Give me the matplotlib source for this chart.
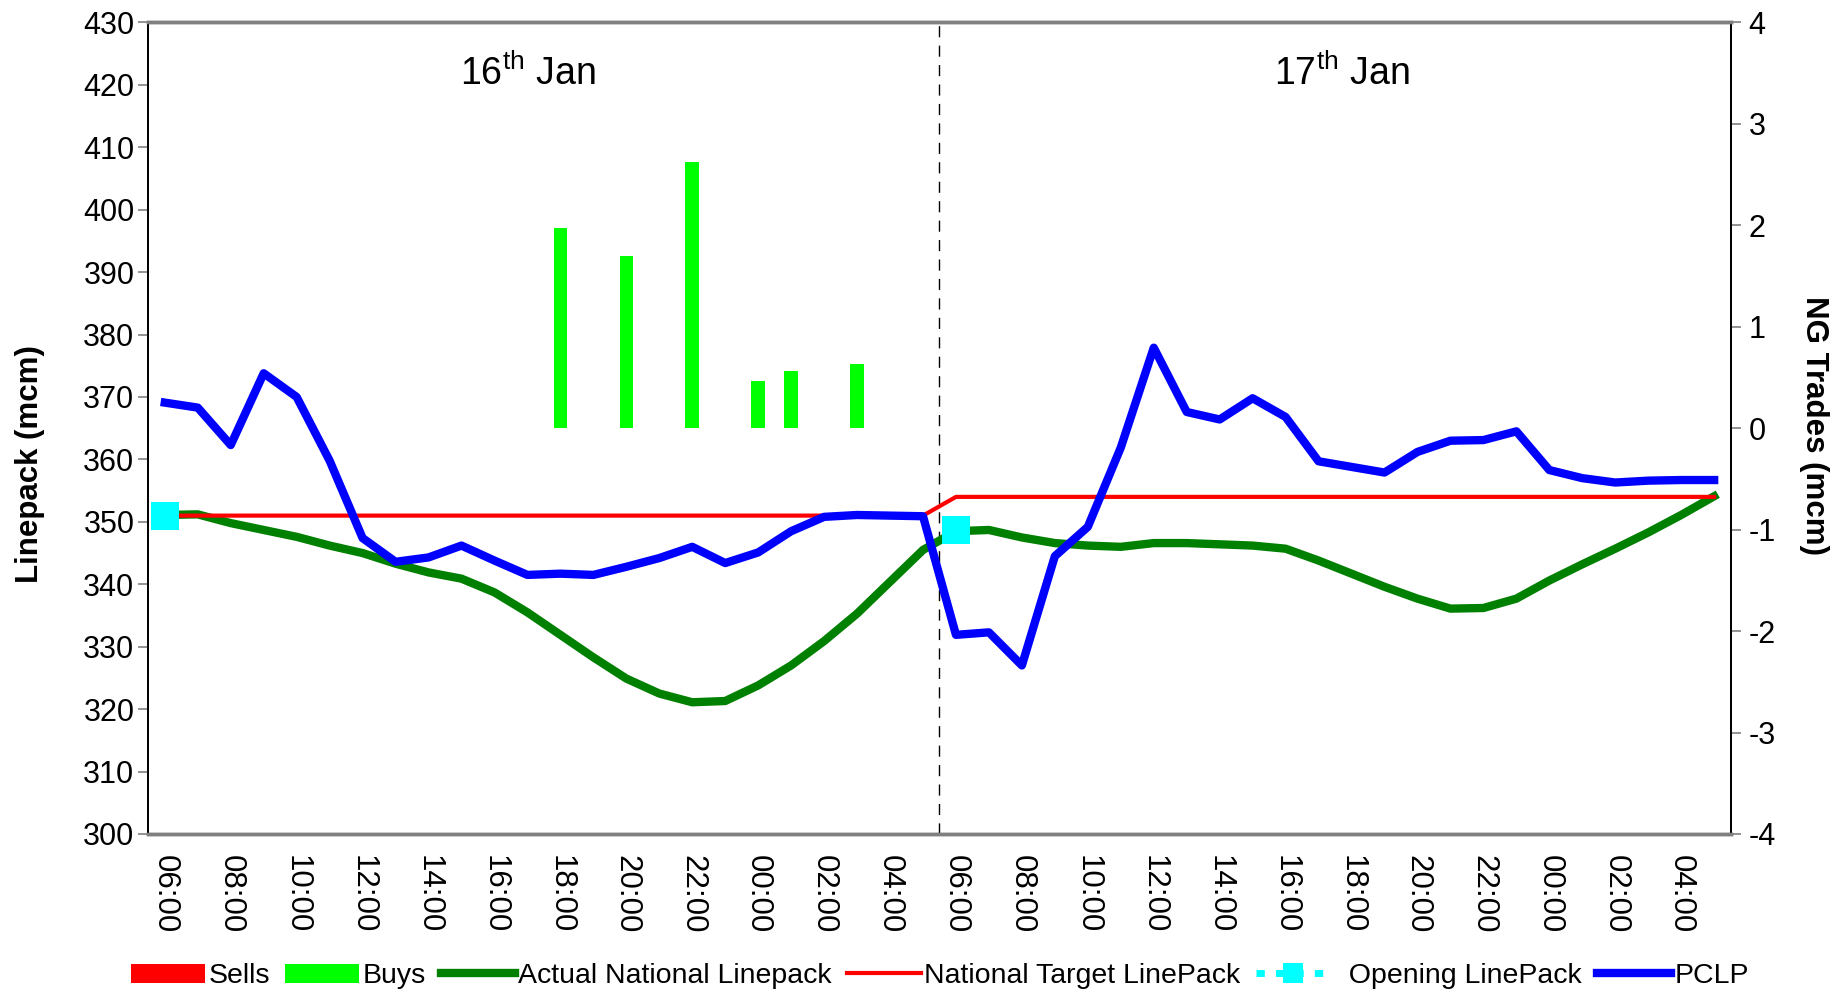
import numpy as np
import matplotlib
matplotlib.use("Agg")
import matplotlib.pyplot as plt
from matplotlib import font_manager
from matplotlib.lines import Line2D
from matplotlib.patches import Patch

# ---------------- data ----------------
hours = ["06:00", "07:00", "08:00", "09:00", "10:00", "11:00", "12:00", "13:00",
         "14:00", "15:00", "16:00", "17:00", "18:00", "19:00", "20:00", "21:00",
         "22:00", "23:00", "00:00", "01:00", "02:00", "03:00", "04:00", "05:00"]
categories = hours + hours  # 16th Jan 06:00 -> 18th Jan 05:00

actual_linepack = [351.1, 351.2, 349.8, 348.7, 347.6, 346.2, 345.0, 343.3,
                   341.9, 340.9, 338.7, 335.5, 331.9, 328.3, 324.9, 322.5,
                   321.1, 321.3, 323.8, 327.0, 330.9, 335.3, 340.4, 345.5,
                   348.5, 348.7, 347.5, 346.6, 346.2, 346.0, 346.6, 346.6,
                   346.4, 346.2, 345.7, 343.8, 341.7, 339.6, 337.7, 336.1,
                   336.2, 337.7, 340.6, 343.2, 345.7, 348.3, 351.1, 354.1]

target_linepack = [351.0] * 24 + [354.0] * 24

pclp = [369.1, 368.3, 362.3, 373.8, 370.0, 359.8, 347.4, 343.6,
        344.3, 346.2, 343.8, 341.5, 341.7, 341.5, 342.8, 344.2,
        346.0, 343.4, 345.1, 348.5, 350.8, 351.1, 351.0, 350.9,
        331.9, 332.3, 327.0, 344.5, 349.2, 361.9, 377.9, 367.6,
        366.4, 369.8, 366.8, 359.7, 358.8, 357.9, 361.2, 363.0,
        363.1, 364.5, 358.3, 357.0, 356.3, 356.6, 356.7, 356.7]

opening_linepack = [351.0] + [np.nan] * 23 + [348.7] + [np.nan] * 23

buys = [0, 0, 0, 0, 0, 0, 0, 0, 0, 0, 0, 0, 1.97, 0, 1.70, 0,
        2.62, 0, 0.47, 0.56, 0, 0.63, 0, 0] + [0] * 24
sells = [0] * 48

day_labels = ["16$^{\\mathrm{th}}$ Jan", "17$^{\\mathrm{th}}$ Jan"]

# ---------------- fonts ----------------
avail = {f.name for f in font_manager.fontManager.ttflist}
narrow = "Liberation Sans Narrow" if "Liberation Sans Narrow" in avail else "Liberation Sans"
regular = "Liberation Sans"
plt.rcParams["font.family"] = [narrow, "DejaVu Sans"]
plt.rcParams["mathtext.fontset"] = "custom"
plt.rcParams["mathtext.rm"] = narrow
plt.rcParams["mathtext.it"] = narrow
plt.rcParams["mathtext.bf"] = narrow
plt.rcParams["axes.unicode_minus"] = False

# ---------------- figure ----------------
fig = plt.figure(figsize=(18.47, 9.97), dpi=100)
ax = fig.add_axes([0.0803, 0.1635, 0.937 - 0.0803, 0.9775 - 0.1635])
ax2 = ax.twinx()

x = np.arange(len(categories))
ax.set_xlim(-0.5, len(categories) - 0.5)
ax.set_ylim(300, 430)
ax2.set_ylim(-4, 4)

# bars on secondary axis
buys_arr = np.array(buys, dtype=float)
sells_arr = np.array(sells, dtype=float)
mask = buys_arr != 0
ax2.bar(x[mask], buys_arr[mask], width=0.41, color="#00FF00", zorder=2)
smask = sells_arr != 0
if smask.any():
    ax2.bar(x[smask], sells_arr[smask], width=0.41, color="#FF0000", zorder=2)

ax.set_zorder(ax2.get_zorder() + 1)
ax.patch.set_visible(False)

ax.plot(x, actual_linepack, color="#008000", lw=6.0, solid_joinstyle="round", zorder=3)
ax.plot(x, target_linepack, color="#FF0000", lw=3.0, zorder=4)
ax.plot(x, pclp, color="#0000FF", lw=6.0, solid_joinstyle="round", zorder=5)
ax.plot(x, opening_linepack, color="#00FFFF", ls="--", marker="s", markersize=19.5,
        markeredgewidth=0, zorder=6)

# day divider
ax.axvline(23.5, color="black", lw=1.0, ls=(0, (8, 6)), zorder=1)

# day labels
ax.text(11.0, 421.7, day_labels[0], fontsize=27, ha="center", va="center")
ax.text(35.7, 421.7, day_labels[1], fontsize=27, ha="center", va="center")

# ticks
ax.set_xticks(x[::2])
ax.set_xticklabels(categories[::2], rotation=270, fontsize=22.5, family=regular)
ax.tick_params(axis="x", length=0, pad=15)
ax.set_yticks(np.arange(300, 431, 10))
ax.tick_params(axis="y", labelsize=22, length=7, width=1.2, color="#808080", pad=3)
ax2.set_yticks(np.arange(-4, 5, 1))
ax2.tick_params(axis="y", labelsize=22, length=7, width=1.2, color="#808080", pad=6)

for a in (ax, ax2):
    a.spines["top"].set_color("#808080")
    a.spines["top"].set_linewidth(2.5)
    a.spines["bottom"].set_color("#808080")
    a.spines["bottom"].set_linewidth(2.5)
    a.spines["left"].set_color("black")
    a.spines["left"].set_linewidth(1.3)
    a.spines["right"].set_color("black")
    a.spines["right"].set_linewidth(1.3)

# axis labels
fig.text(0.016, 0.535, "Linepack (mcm)", rotation=90, ha="center", va="center",
         fontsize=22.5, fontweight="bold", family=regular)
fig.text(0.982, 0.573, "NG Trades (mcm)", rotation=270, ha="center", va="center",
         fontsize=22.5, fontweight="bold", family=regular)

# legend
handles = [
    Patch(facecolor="#FF0000", edgecolor="none"),
    Patch(facecolor="#00FF00", edgecolor="none"),
    Line2D([], [], color="#008000", lw=6.0),
    Line2D([], [], color="#FF0000", lw=3.0),
    Line2D([], [], color="#00FFFF", lw=5, ls=(0, (1.2, 1.6)), marker="s",
           markersize=15, markeredgewidth=0),
    Line2D([], [], color="#0000FF", lw=6.0),
]
labels = ["Sells", "Buys", "Actual National Linepack", "National Target LinePack",
          "  Opening LinePack", "PCLP"]
fig.legend(handles, labels, loc="center", bbox_to_anchor=(0.509, 0.021), ncol=6,
           frameon=False, fontsize=20.5, handlelength=2.6, handleheight=0.65,
           handletextpad=0.1, columnspacing=0.55, borderpad=0.1)

fig.savefig("out.png", dpi=100)
